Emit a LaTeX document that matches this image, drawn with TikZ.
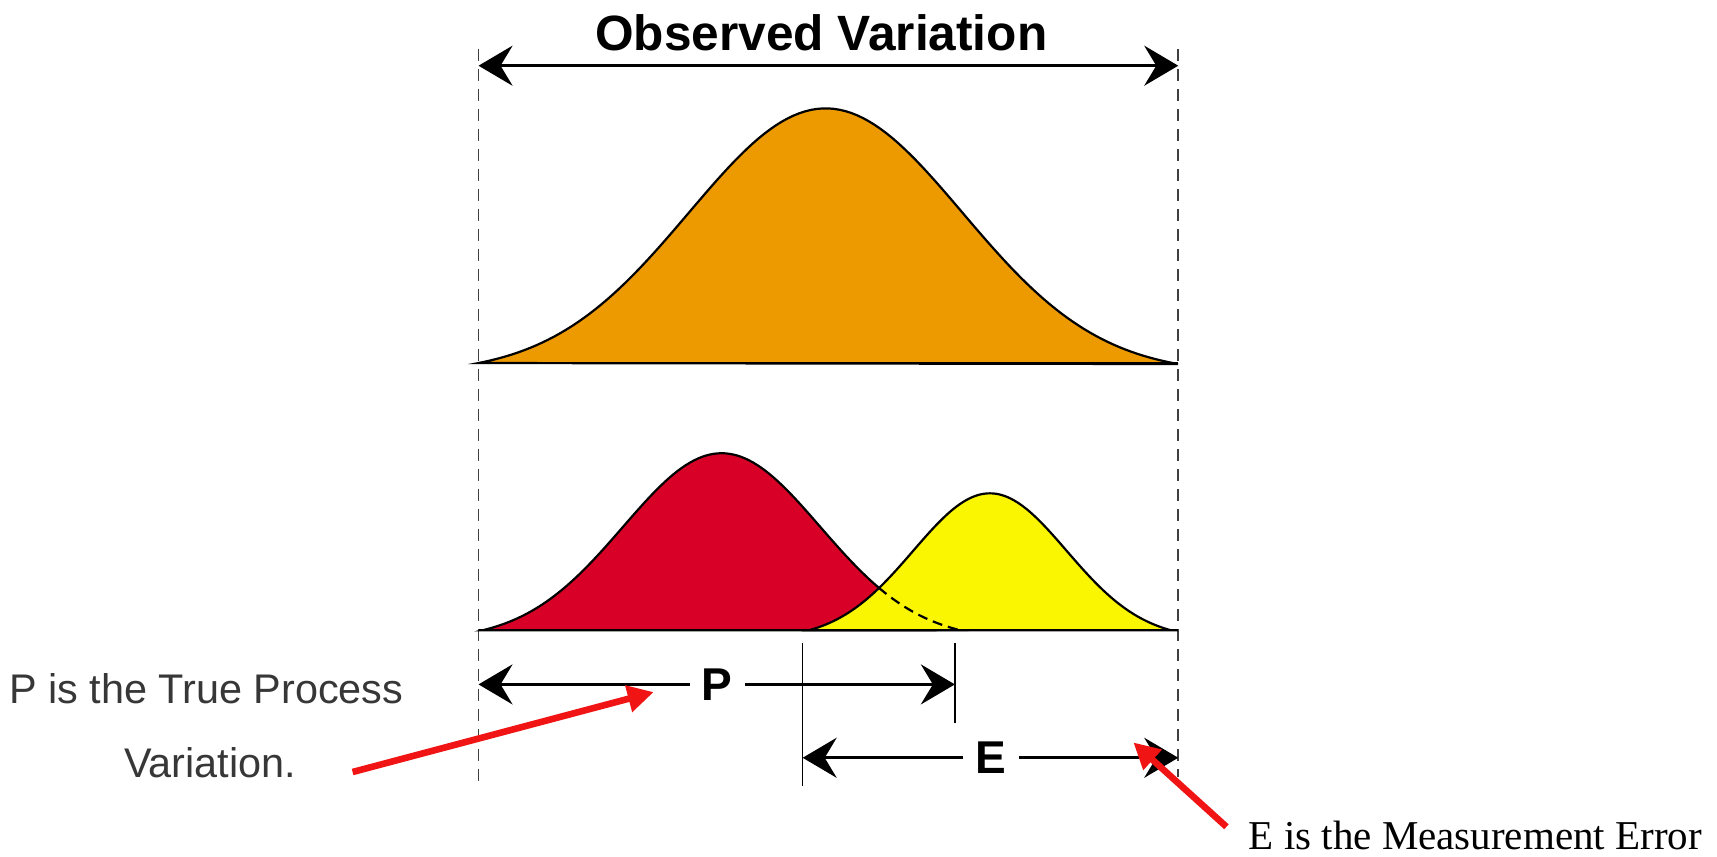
\documentclass[tikz,border=0pt]{standalone}
\usepackage{fontspec}
\setmainfont{Liberation Sans}
\newfontfamily\timesf{Liberation Serif}
\usetikzlibrary{arrows.meta}
\definecolor{orangefill}{RGB}{236,154,0}
\definecolor{redfill}{RGB}{217,0,40}
\definecolor{yellowfill}{RGB}{250,245,0}
\definecolor{textgray}{RGB}{55,55,55}
\definecolor{callred}{RGB}{240,20,20}
\tikzset{
  bigtip/.tip={Stealth[length=17pt,width=20pt,inset=6pt]},
  dimline/.style={line width=1.4pt,-bigtip},
  dimboth/.style={line width=1.4pt,bigtip-bigtip},
  guide/.style={line width=0.8pt,dash pattern=on 6pt off 4pt,draw=black!75},
  tick/.style={line width=0.7pt},
  curve/.style={draw=black,line width=1.1pt},
  base/.style={line width=1.2pt},
  lab/.style={font=\bfseries\fontsize{23}{26}\selectfont,inner xsep=6pt,inner ysep=0pt},
  note/.style={font=\fontsize{20.7}{24}\selectfont,text=textgray,inner sep=0pt},
  callout/.style={draw=callred,line width=3.3pt,-{Triangle[length=13pt,width=13pt]}},
}
\begin{document}
\begin{tikzpicture}[x=0.5475pt,y=-0.5475pt]
\useasboundingbox (0,0) rectangle (1568,782);
% guides
\coordinate (gl1) at (437,45); \coordinate (gl2) at (437,715);
\coordinate (gr1) at (1076,45); \coordinate (gr2) at (1076,710);
\draw[guide] (gl1) -- (gl2);
\draw[guide] (gr1) -- (gr2);
% title and top arrow
\node[anchor=base,font=\bfseries\fontsize{24.8}{28}\selectfont,inner sep=0pt] (title) at (750,46) {Observed Variation};
\coordinate (tl) at (437,60); \coordinate (tr) at (1076,60);
\draw[dimboth] (tl) -- (tr);
% orange curve
\filldraw[fill=orangefill,curve] plot[domain=-2.536:2.576,samples=121,variable=\t] ({754+125*\t},{331.5-232.5*(exp(-\t*\t/2)-0.0401)/0.9599}) -- cycle;
\coordinate (ob1) at (437,331.5); \coordinate (ob2) at (1076,331.5);
\draw[base] (ob1) -- (ob2);
% red and yellow curves
\filldraw[fill=redfill,curve] plot[domain=-2.42:2.42,samples=121,variable=\t] ({659+90*\t},{575.5-161.6*(exp(-\t*\t/2)-0.0532)/0.9468}) -- cycle;
\filldraw[fill=yellowfill,curve] plot[domain=-2.357:2.357,samples=121,variable=\t] ({904+70*\t},{575.5-125*(exp(-\t*\t/2)-0.062)/0.938}) -- cycle;
\draw[curve,dash pattern=on 5pt off 3pt] plot[domain=1.594:2.42,samples=30,variable=\t] ({659+90*\t},{575.5-161.6*(exp(-\t*\t/2)-0.0532)/0.9468});
\coordinate (bb1) at (437,575.5); \coordinate (bb2) at (1076,575.5);
\draw[base] (bb1) -- (bb2);
% ticks
\coordinate (v1t) at (733,587); \coordinate (v1b) at (733,718);
\coordinate (v2t) at (872,587); \coordinate (v2b) at (872,660);
\draw[tick] (v1t) -- (v1b);
\draw[tick] (v2t) -- (v2b);
% P dimension
\node[lab] (P) at (655,625) {P};
\coordinate (pl) at (437,625); \coordinate (pr) at (872,625);
\draw[dimline] (P) -- (pl);
\draw[dimline] (P) -- (pr);
% E dimension
\node[lab] (E) at (905,692) {E};
\coordinate (el) at (733,692); \coordinate (er) at (1076,692);
\draw[dimline] (E) -- (el);
\draw[dimline] (E) -- (er);
% notes
\node[note,anchor=base west] (ptext) at (8,642) {P is the True Process};
\node[note,anchor=base west] (vtext) at (113,710) {Variation.};
\node[anchor=base west,inner sep=0pt,font=\timesf\fontsize{20.5}{24}\selectfont] (etext) at (1140,776) {E is the Measurement Error};
% callouts
\coordinate (c1s) at (322,705); \coordinate (c1e) at (597,632);
\draw[callout] (c1s) -- (c1e);
\coordinate (c2s) at (1120,755); \coordinate (c2e) at (1035,678);
\draw[callout] (c2s) -- (c2e);
\end{tikzpicture}
\end{document}
